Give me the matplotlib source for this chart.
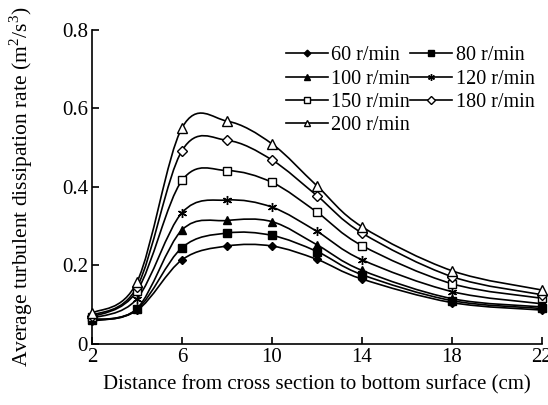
import numpy as np
import matplotlib.pyplot as plt
from matplotlib.path import Path
from matplotlib.patches import PathPatch
from matplotlib.lines import Line2D

plt.rcParams['font.family'] = ['Liberation Serif', 'DejaVu Serif']
plt.rcParams['mathtext.fontset'] = 'custom'
plt.rcParams['mathtext.rm'] = 'Liberation Serif'

# 数据
distance = [2, 4, 6, 8, 10, 12, 14, 18, 22]
speeds = ['60 r/min', '80 r/min', '100 r/min', '120 r/min',
          '150 r/min', '180 r/min', '200 r/min']
rate_60 = [0.058, 0.085, 0.214, 0.249, 0.249, 0.215, 0.165, 0.105, 0.086]
rate_80 = [0.060, 0.088, 0.245, 0.282, 0.276, 0.235, 0.176, 0.110, 0.090]
rate_100 = [0.062, 0.090, 0.290, 0.314, 0.311, 0.252, 0.187, 0.115, 0.094]
rate_120 = [0.065, 0.115, 0.334, 0.366, 0.348, 0.286, 0.214, 0.133, 0.102]
rate_150 = [0.068, 0.135, 0.416, 0.441, 0.411, 0.335, 0.250, 0.153, 0.116]
rate_180 = [0.072, 0.145, 0.492, 0.518, 0.468, 0.377, 0.282, 0.171, 0.125]
rate_200 = [0.078, 0.158, 0.550, 0.567, 0.509, 0.402, 0.298, 0.186, 0.137]
rates = [rate_60, rate_80, rate_100, rate_120, rate_150, rate_180, rate_200]

markers = ['D', 's', '^', (6, 2, 0), 's', 'D', '^']
sizes = [4.5, 5.5, 6, 6.5, 6, 5, 6.5]
faces = ['black', 'black', 'black', 'black', 'white', 'white', 'white']


def smooth_path(x, y):
    # 平滑曲线 (Catmull-Rom -> Bezier)
    pts = np.column_stack([x, y])
    n = len(pts)
    verts = [pts[0]]
    codes = [Path.MOVETO]
    for i in range(n - 1):
        p0 = pts[max(i - 1, 0)]
        p1 = pts[i]
        p2 = pts[i + 1]
        p3 = pts[min(i + 2, n - 1)]
        verts += [p1 + (p2 - p0) / 6, p2 - (p3 - p1) / 6, p2]
        codes += [Path.CURVE4] * 3
    return Path(verts, codes)


fig = plt.figure(figsize=(5.48, 4.05), dpi=100)
ax = fig.add_axes([0.168, 0.151, 0.821, 0.776])

handles = []
for y, m, s, fc, lab in zip(rates, markers, sizes, faces, speeds):
    ax.add_patch(PathPatch(smooth_path(distance, y), fill=False,
                           edgecolor='black', lw=1.2, zorder=2))
    ax.plot(distance, y, linestyle='none', marker=m, markersize=s,
            markerfacecolor=fc, markeredgecolor='black',
            markeredgewidth=1.0, zorder=3, clip_on=False)
    handles.append(Line2D([], [], color='black', lw=1.2, marker=m,
                          markersize=s * 0.75, markerfacecolor=fc,
                          markeredgecolor='black', label=lab))

ax.set_xlim(2, 22)
ax.set_ylim(0, 0.8)
ax.set_xticks([2, 6, 10, 14, 18, 22])
ax.set_yticks([0, 0.2, 0.4, 0.6, 0.8])
ax.set_yticklabels(['0', '0.2', '0.4', '0.6', '0.8'])
ax.spines['top'].set_visible(False)
ax.spines['right'].set_visible(False)
ax.spines['left'].set_linewidth(1.2)
ax.spines['bottom'].set_linewidth(1.2)
ax.tick_params(direction='in', length=5, labelsize=15, width=1.2, pad=3)
ax.set_xlabel('Distance from cross section to bottom surface (cm)',
              fontsize=15, labelpad=6)
ax.set_ylabel('Average turbulent dissipation rate (m$^2$/s$^3$)',
              fontsize=15.5, labelpad=19)

# 图例按行排列
order = [0, 2, 4, 6, 1, 3, 5]
ax.legend([handles[i] for i in order], [speeds[i] for i in order],
          ncol=2, frameon=False, fontsize=14.5, loc='upper right',
          bbox_to_anchor=(1.01, 0.985), handlelength=2.1, handletextpad=0.15,
          columnspacing=0.0, labelspacing=0.2, borderpad=0.1)

fig.savefig('out.png', dpi=100)
